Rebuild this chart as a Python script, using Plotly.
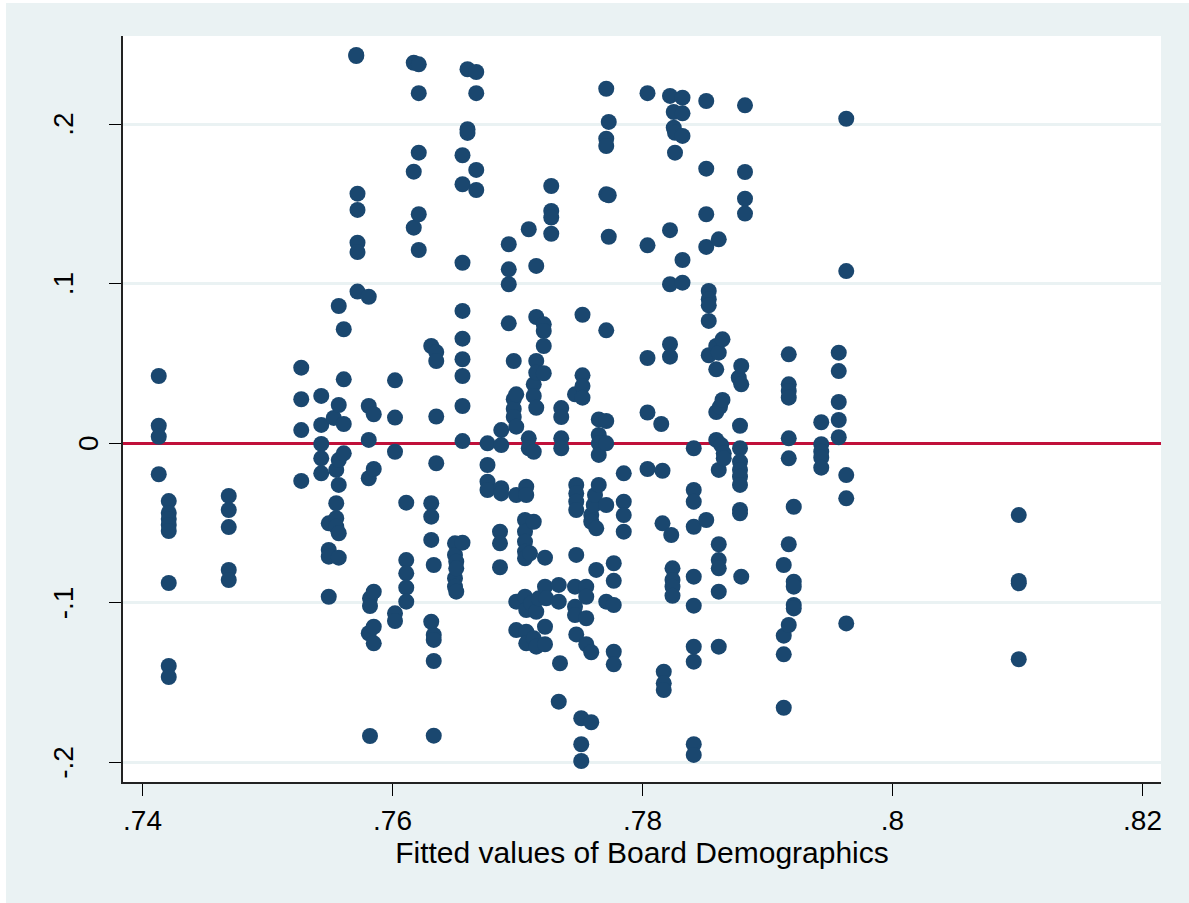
import plotly.graph_objects as go

# Fitted values of Board Demographics, one entry per cluster of observations
fitted_levels = [
    0.7413, 0.7421, 0.7469, 0.7527, 0.7543, 0.7549, 0.7553, 0.7555, 0.7557, 0.7561,
    0.7571, 0.7572, 0.7581, 0.7582, 0.7585, 0.7602, 0.7611, 0.7617, 0.7621, 0.7631,
    0.7633, 0.7635, 0.7650, 0.7651, 0.7656, 0.7660, 0.7667, 0.7676, 0.7686, 0.7687,
    0.7693, 0.7697, 0.7699, 0.7706, 0.7707, 0.7709, 0.7710, 0.7711, 0.7713, 0.7715,
    0.7717, 0.7721, 0.7722, 0.7723, 0.7727, 0.7733, 0.7734, 0.7735, 0.7746, 0.7747,
    0.7751, 0.7752, 0.7755, 0.7759, 0.7761, 0.7762, 0.7763, 0.7765, 0.7771, 0.7773,
    0.7777, 0.7785, 0.7804, 0.7815, 0.7816, 0.7817, 0.7822, 0.7823, 0.7824, 0.7825,
    0.7826, 0.7832, 0.7841, 0.7851, 0.7853, 0.7859, 0.7861, 0.7862, 0.7863, 0.7864,
    0.7865, 0.7877, 0.7878, 0.7879, 0.7882, 0.7913, 0.7917, 0.7921, 0.7943, 0.7957,
    0.7963, 0.8101,
]

# Residuals observed at each fitted value (same order as fitted_levels)
residual_groups = [
    [0.0422, 0.0110, 0.0041, -0.0194],
    [-0.0362, -0.0437, -0.0475, -0.0512, -0.0550, -0.0876, -0.1396, -0.1465],
    [-0.0330, -0.0418, -0.0525, -0.0794, -0.0857],
    [0.0474, 0.0276, 0.0083, -0.0236],
    [0.0297, 0.0115, -0.0004, -0.0094, -0.0188],
    [-0.0502, -0.0669, -0.0711, -0.0962],
    [0.0159],
    [-0.0167, -0.0376, -0.0470, -0.0523],
    [0.0861, 0.0240, -0.0105, -0.0261, -0.0564, -0.0717],
    [0.0715, 0.0401, 0.0121, -0.0063],
    [0.2435, 0.2428],
    [0.1565, 0.1463, 0.1258, 0.1199, 0.0951],
    [0.0919, 0.0234, 0.0021, -0.0219, -0.1191],
    [-0.0972, -0.1020, -0.1835],
    [0.0182, -0.0161, -0.0930, -0.1150, -0.1254],
    [0.0395, 0.0161, -0.0053, -0.1066, -0.1114],
    [-0.0372, -0.0732, -0.0815, -0.0905, -0.0993],
    [0.2386, 0.1703, 0.1352],
    [0.2376, 0.2195, 0.1822, 0.1436, 0.1212],
    [0.0610, -0.0376, -0.0460, -0.0606, -0.1119],
    [-0.0763, -0.1202, -0.1233, -0.1365, -0.1833],
    [0.0572, 0.0516, 0.0168, -0.0125],
    [-0.0627, -0.0700, -0.0846, -0.0899],
    [-0.0742, -0.0784, -0.0930],
    [0.1806, 0.1624, 0.1132, 0.0830, 0.0656, 0.0527, 0.0422, 0.0234, 0.0014, -0.0623],
    [0.2345, 0.1969, 0.1946],
    [0.2328, 0.2195, 0.1714, 0.1588],
    [0.0000, -0.0136, -0.0241, -0.0293],
    [-0.0554, -0.0627, -0.0777],
    [0.0083, -0.0011, -0.0282, -0.0314],
    [0.1248, 0.1091, 0.0997, 0.0752],
    [0.0516, 0.0276, 0.0215, 0.0165],
    [0.0307, 0.0104, -0.0324, -0.0993, -0.1171],
    [-0.0481, -0.0554, -0.0617, -0.0680, -0.0721, -0.0962],
    [-0.0272, -0.0324, -0.1045, -0.1181, -0.1254],
    [0.1342, 0.0031, -0.0031],
    [-0.0690],
    [-0.1003],
    [0.0370, 0.0297, -0.0053, -0.0492, -0.1223],
    [0.1112, 0.0792, 0.0516, 0.0443, 0.0223, -0.1056, -0.1275],
    [-0.0972],
    [0.0746, 0.0704, 0.0610, 0.0439],
    [-0.0717, -0.0899, -0.1150, -0.1260],
    [-0.0972],
    [0.1613, 0.1457, 0.1415, 0.1314],
    [-0.0888, -0.0993, -0.1620],
    [-0.1379],
    [0.0221, 0.0165, 0.0031, -0.0031],
    [0.0307, -0.0899, -0.1025, -0.1077],
    [-0.0261, -0.0314, -0.0366, -0.0418, -0.0700, -0.1198],
    [-0.1724, -0.1887, -0.1992],
    [0.0806, 0.0426, 0.0359, 0.0286],
    [-0.0899, -0.0962, -0.1097, -0.1260],
    [-0.0450, -0.0492, -0.1310, -0.1749],
    [-0.0387],
    [-0.0324],
    [-0.0533, -0.0794],
    [0.0150, 0.0052, 0.0000, -0.0073, -0.0261],
    [0.2223, 0.1910, 0.1864, 0.1561, 0.0708, 0.0140, 0.0000, -0.0387, -0.0993],
    [0.2015, 0.1555, 0.1295],
    [-0.0752, -0.0862, -0.1014, -0.1307, -0.1386],
    [-0.0188, -0.0366, -0.0450, -0.0554],
    [0.2195, 0.1241, 0.0535, 0.0193, -0.0161],
    [0.0121],
    [-0.0172, -0.0502],
    [-0.1432, -0.1505, -0.1547],
    [0.2178, 0.1336, 0.0997, 0.0621, 0.0543],
    [-0.0575],
    [-0.0784, -0.0857, -0.0899, -0.0956],
    [0.2077, 0.1979],
    [0.1947, 0.1822],
    [0.2167, 0.2069, 0.1927, 0.1149, 0.1007],
    [-0.0031, -0.0293, -0.0366, -0.0523, -0.0836, -0.1018, -0.1275, -0.1369, -0.1887, -0.1954],
    [0.2146, 0.1722, 0.1436, 0.1231, -0.0481],
    [0.0955, 0.0903, 0.0865, 0.0767, 0.0552],
    [0.0610, 0.0464, 0.0196, 0.0021],
    [0.1279, 0.0568, -0.0167, -0.0633, -0.0732, -0.0784, -0.0930, -0.1275],
    [0.0229],
    [-0.0011],
    [0.0652, 0.0272],
    [-0.0063, -0.0094],
    [0.0411],
    [0.0110, -0.0031, -0.0115, -0.0167, -0.0209, -0.0261, -0.0418, -0.0439],
    [0.0485, 0.0370, -0.0836],
    [0.2119, 0.1701, 0.1534, 0.1440],
    [-0.0763, -0.1206, -0.1323, -0.1658],
    [0.0558, 0.0370, 0.0328, 0.0286, 0.0031, -0.0094, -0.0633, -0.1139],
    [-0.0398, -0.0868, -0.0899, -0.1014, -0.1035],
    [0.0132, -0.0006, -0.0053, -0.0090, -0.0153],
    [0.0568, 0.0453, 0.0259, 0.0146, 0.0038],
    [0.2035, 0.1080, -0.0199, -0.0345, -0.1129],
    [-0.0450, -0.0863, -0.0878, -0.1354],
]

x_ticks = [0.74, 0.76, 0.78, 0.80, 0.82]
x_tick_labels = [".74", ".76", ".78", ".8", ".82"]
y_ticks = [-0.2, -0.1, 0.0, 0.1, 0.2]
y_tick_labels = ["-.2", "-.1", "0", ".1", ".2"]
x_title = "Fitted values of Board Demographics"

fitted = []
resid = []
for fv, grp in zip(fitted_levels, residual_groups):
    for r in grp:
        fitted.append(fv)
        resid.append(r)

NAVY = "#1A476F"
BG = "#EAF2F3"
FONT = "Liberation Sans, Arial, sans-serif"

fig = go.Figure()
fig.add_trace(go.Scatter(
    x=fitted, y=resid, mode="markers",
    marker=dict(size=16, color=NAVY, line=dict(width=0)),
    hoverinfo="x+y", showlegend=False,
))

# rotated y tick labels (the zero label sits closer to the axis)
for v, t in zip(y_ticks, y_tick_labels):
    fig.add_annotation(
        x=-0.033 if t == "0" else -0.0573, xref="paper", y=v, yref="y",
        text=t, textangle=-90, showarrow=False,
        xanchor="center", yanchor="middle",
        font=dict(family=FONT, size=28, color="black"),
    )

fig.update_layout(
    width=1189, height=903,
    margin=dict(l=123, r=28, t=36, b=121),
    paper_bgcolor=BG, plot_bgcolor="white",
    font=dict(family=FONT, size=28, color="black"),
    shapes=[
        dict(type="rect", xref="paper", yref="paper", x0=-0.2, x1=1.1,
             y0=1.0442, y1=1.2, fillcolor="white", line=dict(width=0)),
        dict(type="rect", xref="paper", yref="paper", x0=-0.2, x1=-0.1127,
             y0=-0.3, y1=1.2, fillcolor="white", line=dict(width=0)),
    ],
    xaxis=dict(
        range=[0.73844, 0.82148], tickvals=x_ticks, ticktext=x_tick_labels,
        ticks="outside", ticklen=12, tickwidth=1.3, tickcolor="black",
        showline=True, linecolor="#222222", linewidth=2,
        showgrid=False, zeroline=False,
        tickfont=dict(family=FONT, size=28, color="black"),
        title=dict(text=x_title, font=dict(family=FONT, size=30, color="black"), standoff=2),
    ),
    yaxis=dict(
        range=[-0.21235, 0.25536], tickvals=y_ticks, showticklabels=False,
        ticks="outside", ticklen=12, tickwidth=1.3, tickcolor="black",
        showline=True, linecolor="#222222", linewidth=1.5,
        showgrid=True, gridcolor=BG, gridwidth=2.5,
        zeroline=True, zerolinecolor="#C0103A", zerolinewidth=2.5,
    ),
)

fig.write_html("out.html")
